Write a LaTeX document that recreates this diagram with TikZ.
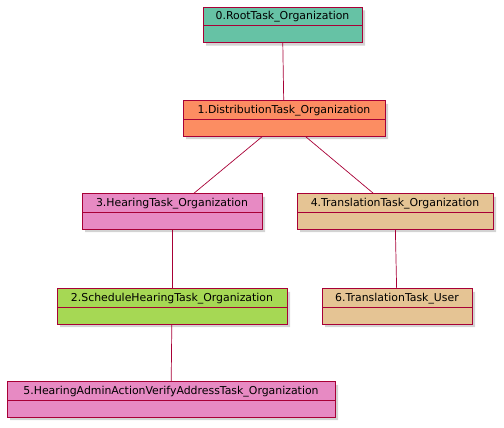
\documentclass[tikz,border=0pt]{standalone}
\usepackage{fontspec}
\setmainfont{DejaVu Sans}
\usetikzlibrary{shapes.multipart,shadows}
\definecolor{umlred}{HTML}{A80036}
\definecolor{setgreen}{HTML}{66C2A5}
\definecolor{setorange}{HTML}{FC8D62}
\definecolor{setpink}{HTML}{E78AC3}
\definecolor{settan}{HTML}{E5C494}
\definecolor{setlime}{HTML}{A6D854}
\begin{document}
\begin{tikzpicture}[x=1pt,y=-1pt,
    task/.style={rectangle split,rectangle split parts=2,draw=umlred,line width=0.9pt,
        inner ysep=3.2pt,text height=8.6pt,text depth=2.6pt,rectangle split empty part height=9.5pt,
        font=\fontsize{10.9}{13}\selectfont,drop shadow={shadow xshift=3pt,shadow yshift=-3pt,opacity=0.35}},
    link/.style={draw=umlred,line width=0.7pt}]
    \useasboundingbox (0,0) rectangle (504,428);
    \node[task,fill=setgreen,minimum width=159pt] (root) at (282.5,25) {0.RootTask\_Organization \nodepart{two}};
    \node[task,fill=setorange,minimum width=202pt] (dist) at (284,118.5) {1.DistributionTask\_Organization \nodepart{two}};
    \node[task,fill=setpink,minimum width=180pt] (hearing) at (172,211.5) {3.HearingTask\_Organization \nodepart{two}};
    \node[task,fill=settan,minimum width=196pt] (transorg) at (395,211.5) {4.TranslationTask\_Organization \nodepart{two}};
    \node[task,fill=setlime,minimum width=230pt] (schedule) at (172,306.5) {2.ScheduleHearingTask\_Organization \nodepart{two}};
    \node[task,fill=settan,minimum width=150pt] (transuser) at (397,306.5) {6.TranslationTask\_User \nodepart{two}};
    \node[task,fill=setpink,minimum width=328pt] (verify) at (171,399.5) {5.HearingAdminActionVerifyAddressTask\_Organization \nodepart{two}};
    \draw[link] (root) -- (dist);
    \draw[link] (dist) -- (hearing);
    \draw[link] (dist) -- (transorg);
    \draw[link] (hearing) -- (schedule);
    \draw[link] (transorg) -- (transuser);
    \draw[link] (schedule) -- (verify);
\end{tikzpicture}
\end{document}
